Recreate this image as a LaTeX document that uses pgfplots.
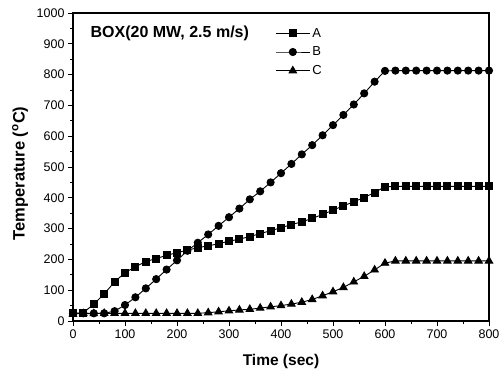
\documentclass[border=0pt]{standalone}
\usepackage{fontspec}
\setmainfont{Liberation Sans}
\usepackage{pgfplots}
\pgfplotsset{compat=1.18}
\begin{document}
\begin{tikzpicture}
\begin{axis}[
  scale only axis, width=416pt, height=308pt,
  xmin=0, xmax=800, ymin=0, ymax=1000,
  xtick={0,100,...,800}, ytick={0,100,...,1000},
  minor x tick num=1, minor y tick num=1,
  tick align=outside, xtick pos=bottom, ytick pos=left,
  major tick length=5pt, minor tick length=3pt,
  axis line style={line width=1.1pt},
  every tick/.style={black, line width=0.9pt},
  tick label style={font=\fontsize{12.5}{14}\selectfont},
  /pgf/number format/assume math mode=true,
  /pgf/number format/set thousands separator={},
  xlabel={\textbf{Time (sec)}},
  ylabel={\textbf{Temperature (\textsuperscript{o}C)}},
  label style={font=\fontsize{15.5}{18}\selectfont},
  xlabel style={at={(axis description cs:0.5,0)}, anchor=base, yshift=-44pt},
  ylabel style={at={(axis description cs:0,0.479)}, anchor=center, yshift=53pt,
    font=\fontsize{16.5}{18}\selectfont},
  legend style={draw=none, fill=none, at={(rel axis cs:0.486,0.958)}, anchor=north west,
    font=\fontsize{13}{15}\selectfont, row sep=4.2pt, inner sep=0pt},
  legend cell align=left,
  legend image code/.code={\draw[mark repeat=2,mark phase=2,#1] plot coordinates {(0pt,0pt)(17pt,0pt)(34pt,0pt)};},
  every axis plot/.append style={black, line width=0.9pt},
]
\addplot[mark=square*, mark size=3.5pt] coordinates {
(0,25)(20,27)(40,55)(60,88)(80,127)(100,157)(120,176)(140,193)(160,203)(180,213)
(200,222)(220,230)(240,238)(260,244)(280,251)(300,259)(320,266)(340,274)(360,284)(380,293)
(400,303)(420,313)(440,322)(460,333)(480,346)(500,360)(520,374)(540,387)(560,401)(580,417)
(600,436)(620,437)(640,437)(660,437)(680,437)(700,437)(720,437)(740,437)(760,437)(780,437)(800,437)};
\addlegendentry{A}
\addplot[mark=*, mark size=3.6pt] coordinates {
(0,25)(20,25)(40,25)(60,25)(80,32)(100,52)(120,77)(140,106)(160,136)(180,167)
(200,197)(220,228)(240,254)(260,281)(280,309)(300,337)(320,365)(340,395)(360,421)(380,450)
(400,480)(420,510)(440,541)(460,571)(480,603)(500,636)(520,669)(540,703)(560,739)(580,777)
(600,812)(620,813)(640,813)(660,813)(680,813)(700,813)(720,813)(740,813)(760,813)(780,813)(800,813)};
\addlegendentry{B}
\addplot[mark=triangle*, mark size=4.3pt] coordinates {
(0,23)(20,24)(40,24)(60,25)(80,25)(100,25)(120,25)(140,25)(160,25)(180,25)
(200,25)(220,25)(240,25)(260,27)(280,30)(300,33)(320,36)(340,38)(360,42)(380,46)
(400,50)(420,55)(440,61)(460,70)(480,82)(500,95)(520,109)(540,127)(560,145)(580,166)
(600,188)(620,195)(640,195)(660,195)(680,195)(700,195)(720,195)(740,195)(760,195)(780,195)(800,195)};
\addlegendentry{C}
\node[anchor=base west, font=\fontsize{16}{18}\selectfont\bfseries] at (rel axis cs:0.034,0.92) {BOX(20 MW, 2.5 m/s)};
\end{axis}
\pgfresetboundingbox
\path[use as bounding box] (current axis.south west) ++(-73pt,-49pt) rectangle ([shift={(10pt,13pt)}]current axis.north east);
\end{tikzpicture}
\end{document}
